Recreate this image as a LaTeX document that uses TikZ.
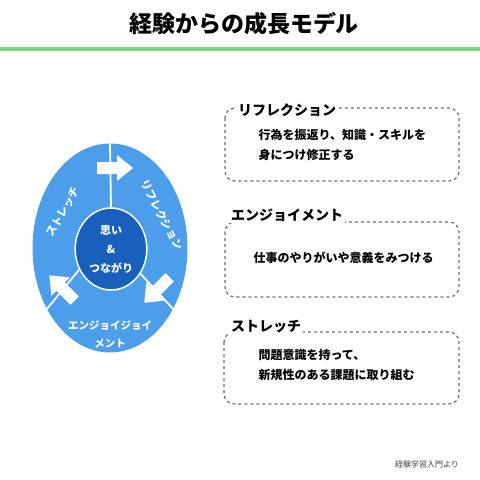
\documentclass[tikz,border=0pt]{standalone}
\usepackage{fontspec}
\setmainfont{Noto Sans CJK JP}
\usepackage{tikz}
\usetikzlibrary{shapes.geometric}

\definecolor{ringblue}{RGB}{76,158,235}
\definecolor{coreblue}{RGB}{24,96,188}
\definecolor{rulegreen}{RGB}{122,218,132}
\definecolor{dashgray}{RGB}{110,110,110}

\tikzset{
  ringtext/.style={text=white, font=\bfseries\fontsize{11}{13}\selectfont},
  cyclearrow/.pic={
    \fill[white] (-18,-6) -- (2,-6) -- (2,-13) -- (18,0) -- (2,13) -- (2,6) -- (-18,6) -- cycle;
  },
  dashbox/.style={draw=dashgray, dashed, line width=1.2pt, rounded corners=10pt},
  boxhead/.style={fill=white, inner sep=2pt, font=\bfseries\fontsize{14}{16}\selectfont},
  boxbody/.style={font=\bfseries\fontsize{12}{20}\selectfont, align=left}
}

\begin{document}
\begin{tikzpicture}[x=1pt,y=-1pt]
    \useasboundingbox (0,0) rectangle (480,480);
    \fill[white] (0,0) rectangle (480,480);

    % title
    \node[font=\bfseries\fontsize{23}{26}\selectfont] (title) at (244,24) {経験からの成長モデル};
    \coordinate (ruleL) at (0,49);
    \coordinate (ruleR) at (480,49);
    \draw[rulegreen, line width=3.5pt] (ruleL) -- (ruleR);

    % cycle
    \node[ellipse, fill=ringblue, minimum width=155pt, minimum height=209pt] (ring) at (110,248) {};
    \node[ellipse, fill=coreblue, draw=white, line width=1.5pt, minimum width=68pt, minimum height=82pt,
      text=white, align=center, font=\bfseries\fontsize{11}{19}\selectfont] (core) at (111,249) {思い\\\&\\つながり};
    \draw[white, line width=1.8pt] (core.north) -- (ring.north);
    \draw[white, line width=1.8pt] (core.213) -- (ring.224);
    \draw[white, line width=1.8pt] (core.320) -- (ring.316);

    \pic at (115,168) {cyclearrow};
    \pic[rotate=225] at (157,290) {cyclearrow};
    \pic[rotate=135] at (62,288) {cyclearrow};

    \node[ringtext, rotate=60] (strLbl) at (63,212) {ストレッチ};
    \node[ringtext, rotate=-62] (refLbl) at (162,215) {リフレクション};
    \node[ringtext, align=center, font=\bfseries\fontsize{10.5}{18}\selectfont] (enjLbl) at (110,334) {エンジョイジョイ\\メント};

    % boxes
    \draw[dashbox] (225,108) rectangle (459,181);
    \node[boxhead, anchor=west] (refHead) at (236,110) {リフレクション};
    \node[boxbody, anchor=north west] (refBody) at (255,126) {行為を振返り、知識・スキルを\\身につけ修正する};

    \draw[dashbox] (225,222) rectangle (459,297);
    \node[boxhead, anchor=west] (enjHead) at (229,215) {エンジョイメント};
    \node[boxbody, anchor=west] (enjBody) at (250,258) {仕事のやりがいや意義をみつける};

    \draw[dashbox] (224,332) rectangle (459,404);
    \node[boxhead, anchor=west] (strHead) at (229,327) {ストレッチ};
    \node[boxbody, anchor=north west] (strBody) at (255,346) {問題意識を持って、\\新規性のある課題に取り組む};

    % source
    \node[font=\fontsize{8}{10}\selectfont, text=black!75] (source) at (427,464) {経験学習入門より};
\end{tikzpicture}
\end{document}
